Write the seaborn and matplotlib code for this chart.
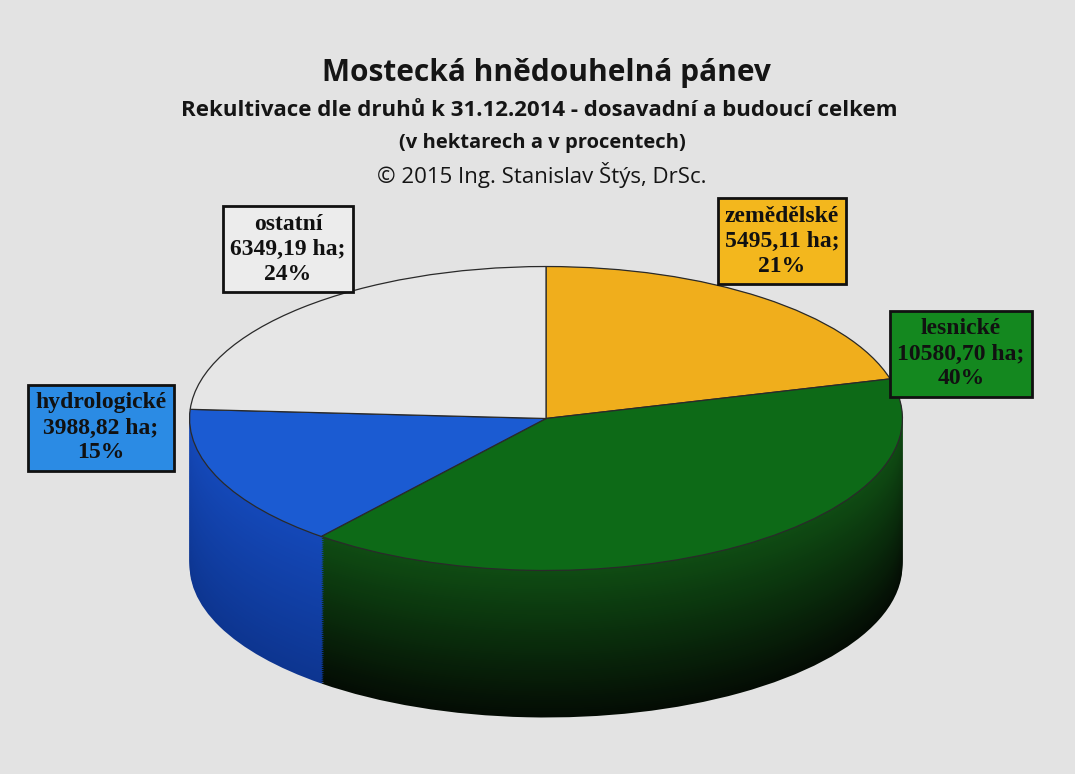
import matplotlib.pyplot as plt
import matplotlib.colors as mcolors
import seaborn as sns
import numpy as np

# data
categories = ["zemědělské", "lesnické", "hydrologické", "ostatní"]
hectares = [5495.11, 10580.70, 3988.82, 6349.19]
percents = [21, 40, 15, 24]
hectare_labels = ["5495,11 ha;", "10580,70 ha;", "3988,82 ha;", "6349,19 ha;"]

top_colors = ["#f0ae1c", "#0d6a17", "#1b5bd2", "#e6e6e6"]
wall_top = ["#b07a10", "#0f4c13", "#1448b8", "#b8b8b8"]
wall_bottom = ["#6a4a08", "#040c04", "#0d3590", "#909090"]
box_colors = ["#f3b71d", "#14881f", "#2b8be4", "#ececec"]

sns.set_theme(style="white")
plt.rcParams["font.family"] = ["Open Sans", "DejaVu Sans"]

W, H = 1075, 774
fig = plt.figure(figsize=(W / 100, H / 100), dpi=100, facecolor="#e3e3e3")

# pie geometry in pixels
cx, cy, rx, ry, depth = 546, 418, 360, 153, 148
d = depth / ry
ax = fig.add_axes([(cx - rx) / W, 1 - (cy + ry + depth) / H, 2 * rx / W, (2 * ry + depth) / H])

# side wall: stack of darker pies
n_layers = 70
for k in np.linspace(d, 0, n_layers):
    t = k / d
    cols = [mcolors.to_hex(np.array(mcolors.to_rgb(a)) * (1 - t) + np.array(mcolors.to_rgb(b)) * t)
            for a, b in zip(wall_top, wall_bottom)]
    ax.pie(hectares, colors=cols, startangle=90, counterclock=False,
           center=(0, -k), wedgeprops=dict(linewidth=0))

# top face
ax.pie(hectares, colors=top_colors, startangle=90, counterclock=False,
       wedgeprops=dict(linewidth=0.9, edgecolor="#2a2a2a"))

ax.set_xlim(-1.01, 1.01)
ax.set_ylim(-1 - d - 0.01, 1.01)
ax.set_aspect("auto")
ax.axis("off")

# titles
fig.text(546 / W, 1 - 73 / H, "Mostecká hnědouhelná pánev", ha="center", va="center",
         fontsize=21.5, fontweight="bold", color="#151515")
fig.text(539 / W, 1 - 110 / H, "Rekultivace dle druhů k 31.12.2014 - dosavadní a budoucí celkem",
         ha="center", va="center", fontsize=16, fontweight="bold", color="#151515")
fig.text(542 / W, 1 - 143 / H, "(v hektarech a v procentech)", ha="center", va="center",
         fontsize=14.5, fontweight="bold", color="#151515")
fig.text(542 / W, 1 - 175 / H, "© 2015 Ing. Stanislav Štýs, DrSc.", ha="center", va="center",
         fontsize=16, color="#151515")

# data labels
label_pos = [(782, 241), (961, 354), (101, 428), (288, 249)]
for name, ha_lbl, pct, (x, y), bc in zip(categories, hectare_labels, percents, label_pos, box_colors):
    fig.text(x / W, 1 - y / H, f"{name}\n{ha_lbl}\n{pct}%", ha="center", va="center",
             fontsize=17, fontweight="bold", family=["Liberation Serif", "DejaVu Serif"],
             color="#111111", linespacing=1.25,
             bbox=dict(boxstyle="square,pad=0.3", facecolor=bc, edgecolor="#111111", linewidth=2))

fig.savefig("out.png", dpi=100, facecolor=fig.get_facecolor())
